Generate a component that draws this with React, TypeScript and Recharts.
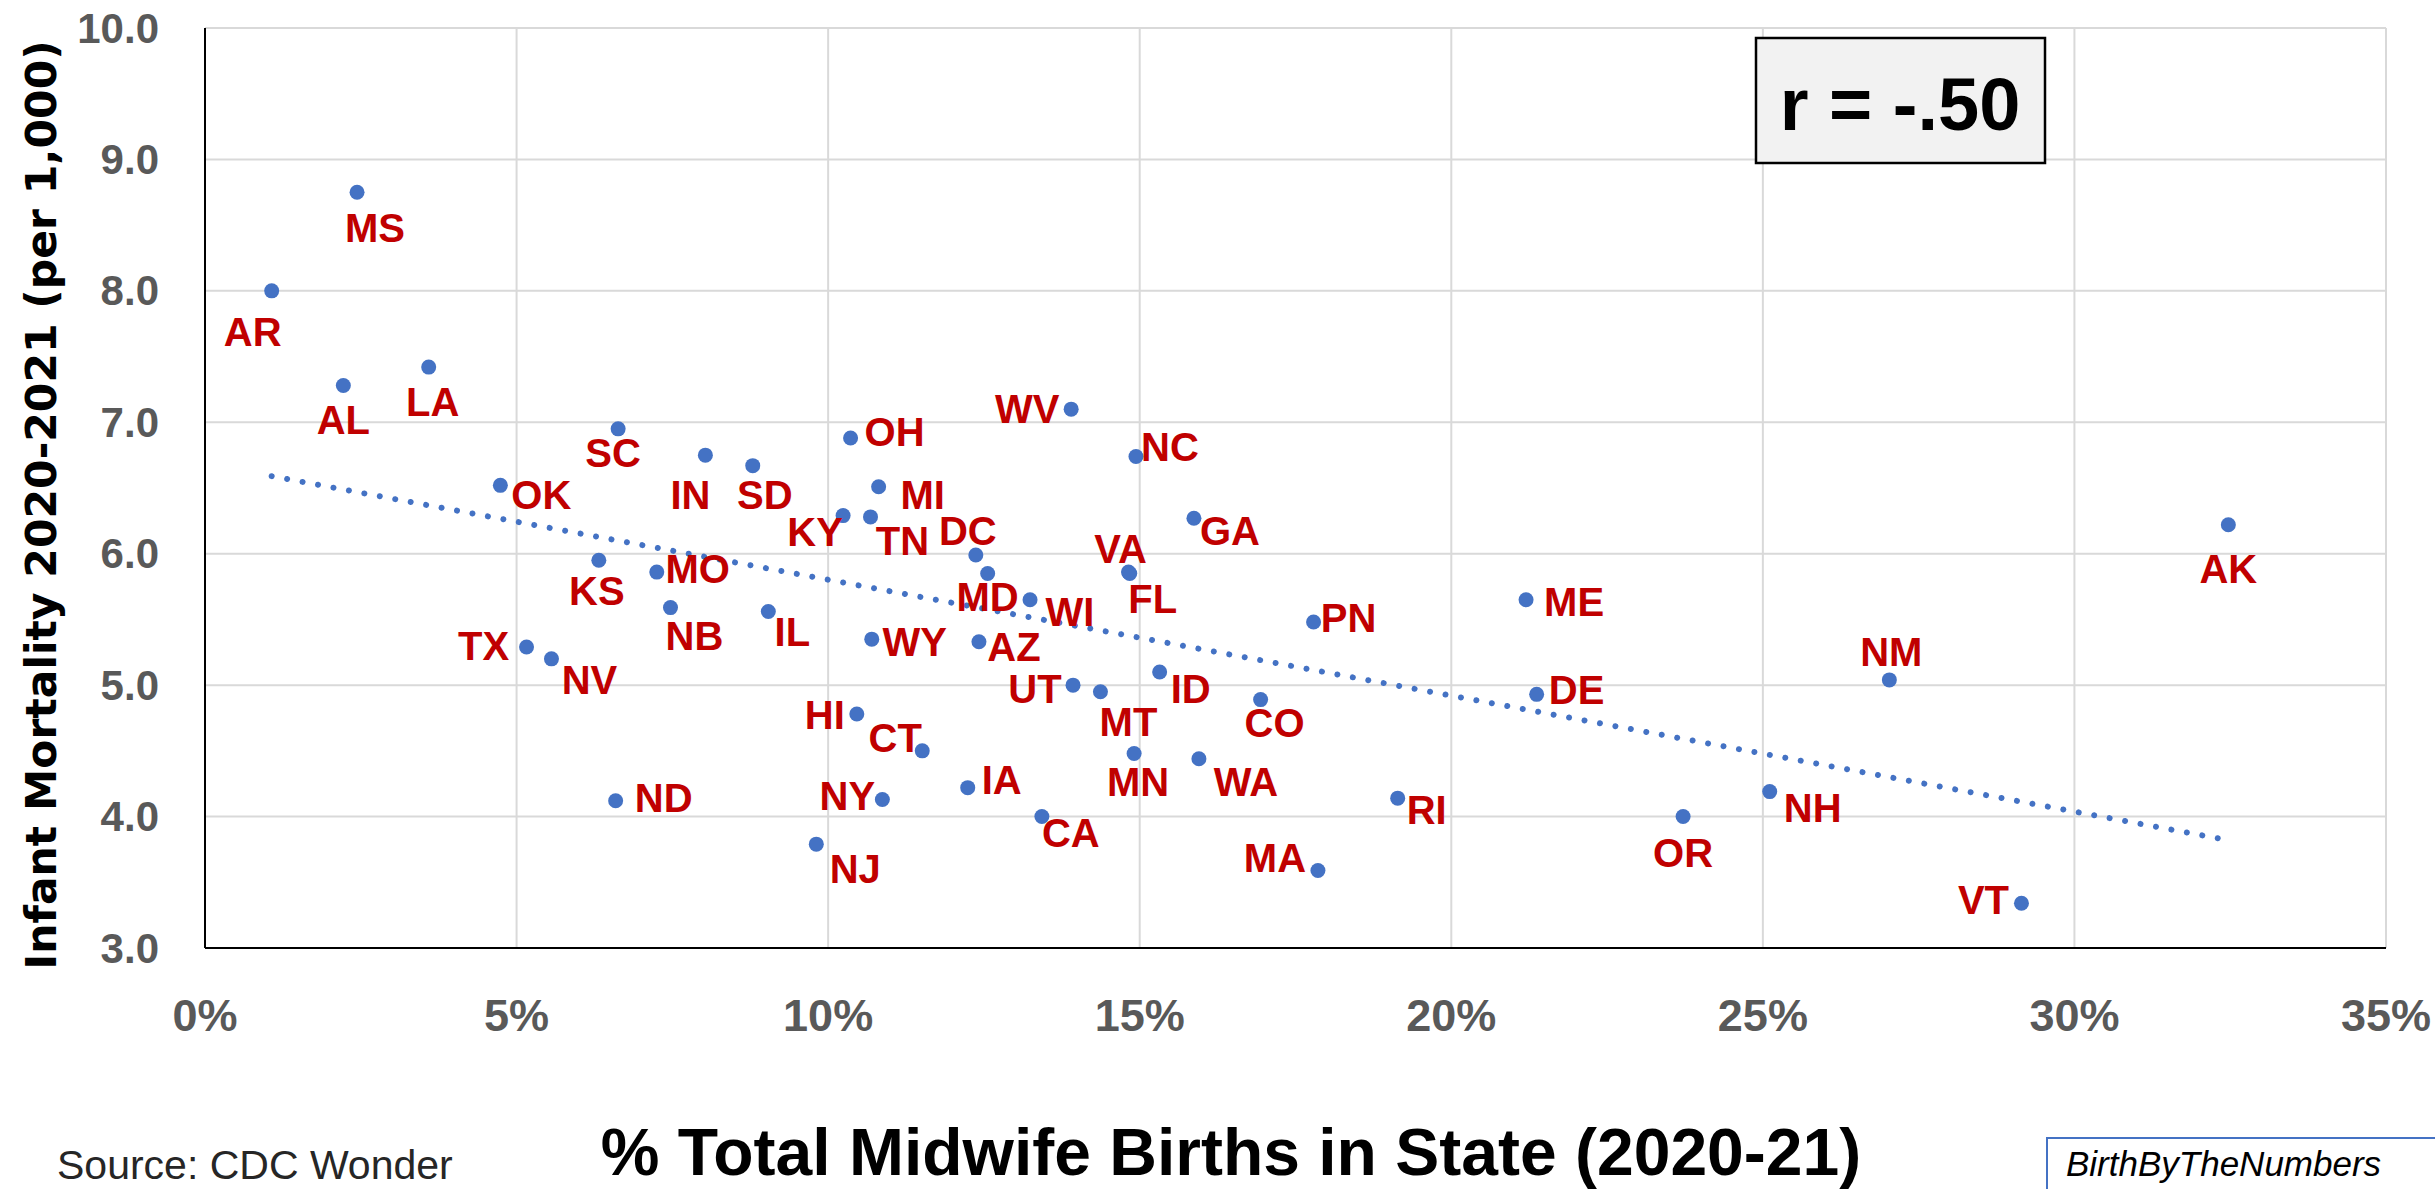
import { ScatterChart, Scatter, XAxis, YAxis, CartesianGrid } from 'recharts';

// Infant mortality vs share of midwife births, by state
const states = [
  'AR', 'MS', 'AL', 'LA', 'OK', 'SC', 'KS', 'MO', 'NB', 'IN', 'SD', 'IL', 'TX',
  'NV', 'ND', 'NJ', 'KY', 'OH', 'TN', 'MI', 'WY', 'HI', 'NY', 'CT', 'IA', 'DC',
  'AZ', 'MD', 'WI', 'CA', 'WV', 'UT', 'MT', 'VA', 'FL', 'MN', 'NC', 'ID', 'GA',
  'WA', 'CO', 'PN', 'MA', 'RI', 'ME', 'DE', 'OR', 'NH', 'NM', 'VT', 'AK',
];
const midwifePct = [
  1.07, 2.44, 2.22, 3.59, 4.74, 6.63, 6.32, 7.25, 7.47, 8.03, 8.79, 9.04, 5.16,
  5.56, 6.59, 9.81, 10.24, 10.36, 10.68, 10.81, 10.7, 10.46, 10.87, 11.51, 12.24, 12.37,
  12.42, 12.56, 13.24, 13.43, 13.9, 13.93, 14.37, 14.82, 14.84, 14.91, 14.94, 15.32, 15.87,
  15.95, 16.94, 17.79, 17.86, 19.14, 21.2, 21.37, 23.72, 25.11, 27.03, 29.15, 32.47,
];
const mortality = [
  8.0, 8.75, 7.28, 7.42, 6.52, 6.95, 5.95, 5.86, 5.59, 6.75, 6.67, 5.56, 5.29,
  5.2, 4.12, 3.79, 6.29, 6.88, 6.28, 6.51, 5.35, 4.78, 4.13, 4.5, 4.22, 5.99,
  5.33, 5.85, 5.65, 4.0, 7.1, 5.0, 4.95, 5.86, 5.85, 4.48, 6.74, 5.1, 6.27,
  4.44, 4.89, 5.48, 3.59, 4.14, 5.65, 4.93, 4.0, 4.19, 5.04, 3.34, 6.22,
];

// Linear trend endpoints
const trendX = [1.07, 32.47];
const trendY = [6.59, 3.82];

const xTicks = [0, 5, 10, 15, 20, 25, 30, 35];
const yTicks = [3, 4, 5, 6, 7, 8, 9, 10];

// label placement relative to the dot (px)
const labelOffsets: Record<string, [number, number]> = {
  AR: [-19, 41], MS: [18, 36], AL: [0, 35], LA: [4, 35], OK: [41, 10], SC: [-5, 24],
  KS: [-2, 31], MO: [41, -3], NB: [24, 28], IN: [-15, 40], SD: [12, 29], IL: [24, 20],
  TX: [-43, -1], NV: [38, 21], ND: [48, -3], NJ: [39, 25], KY: [-28, 16], OH: [44, -6],
  TN: [32, 24], MI: [44, 8], WY: [43, 3], HI: [-32, 1], NY: [-35, -3], CT: [-27, -13],
  IA: [34, -8], DC: [-8, -24], AZ: [35, 5], MD: [0, 24], WI: [40, 12], CA: [29, 16],
  WV: [-44, 0], UT: [-38, 4], MT: [28, 30], VA: [-8, -23], FL: [23, 26], MN: [4, 29],
  NC: [34, -9], ID: [31, 17], GA: [36, 13], WA: [47, 23], CO: [14, 23], PN: [35, -4],
  MA: [-43, -12], RI: [29, 12], ME: [48, 2], DE: [40, -4], OR: [0, 36], NH: [43, 16],
  NM: [2, -28], VT: [-38, -3], AK: [0, 44],
};

const points = states.map((s, i) => ({ state: s, x: midwifePct[i], y: mortality[i] }));
const trend = trendX.map((x, i) => ({ x, y: trendY[i] }));

const FONT = "'Liberation Sans', Arial, sans-serif";
const BLUE = '#4472C4';

const StateDot = (props: any) => {
  const { cx, cy, payload } = props;
  const [dx, dy] = labelOffsets[payload.state] || [0, 30];
  return (
    <g>
      <circle cx={cx} cy={cy} r={7.5} fill={BLUE} />
      <text
        x={cx + dx}
        y={cy + dy}
        textAnchor="middle"
        dominantBaseline="central"
        fontFamily={FONT}
        fontWeight="bold"
        fontSize={40}
        fill="#C00000"
      >
        {payload.state}
      </text>
    </g>
  );
};

const XTick = (props: any) => {
  const { x, payload } = props;
  return (
    <text x={x} y={1031} textAnchor="middle" fontFamily={FONT} fontWeight="bold" fontSize={45} fill="#595959">
      {payload.value}%
    </text>
  );
};

const YTick = (props: any) => {
  const { y, payload } = props;
  return (
    <text x={159} y={y} textAnchor="end" dominantBaseline="central" fontFamily={FONT} fontWeight="bold" fontSize={42} fill="#595959">
      {Number(payload.value).toFixed(1)}
    </text>
  );
};

export default function App() {
  return (
    <div style={{ position: 'absolute', left: 0, top: 0, width: 2435, height: 1189, background: '#fff', overflow: 'hidden' }}>
      <ScatterChart width={2435} height={1189} margin={{ top: 28, right: 49, left: 0, bottom: 0 }}>
        <CartesianGrid stroke="#D9D9D9" strokeWidth={2} />
        <XAxis
          type="number"
          dataKey="x"
          domain={[0, 35]}
          ticks={xTicks}
          height={241}
          tickLine={false}
          axisLine={{ stroke: '#000', strokeWidth: 2 }}
          tick={<XTick />}
          interval={0}
        />
        <YAxis
          type="number"
          dataKey="y"
          domain={[3, 10]}
          ticks={yTicks}
          width={205}
          tickLine={false}
          axisLine={{ stroke: '#000', strokeWidth: 2 }}
          tick={<YTick />}
          interval={0}
        />
        <Scatter
          data={trend}
          line={{ stroke: BLUE, strokeWidth: 6, strokeDasharray: '0.01 15.7', strokeLinecap: 'round' }}
          shape={() => <g />}
          isAnimationActive={false}
        />
        <Scatter data={points} shape={<StateDot />} isAnimationActive={false} />
      </ScatterChart>

      <svg width={2435} height={1189} style={{ position: 'absolute', left: 0, top: 0, pointerEvents: 'none' }}>
        <text
          x={41}
          y={505}
          transform="rotate(-90, 41, 505)"
          textAnchor="middle"
          dominantBaseline="central"
          fontFamily="'DejaVu Sans', Verdana, sans-serif"
          fontWeight="bold"
          fontSize={42.5}
          fill="#000"
        >
          Infant Mortality 2020-2021 (per 1,000)
        </text>
        <text x={1231} y={1175} textAnchor="middle" fontFamily={FONT} fontWeight="bold" fontSize={66} fill="#000">
          % Total Midwife Births in State (2020-21)
        </text>
        <text x={57} y={1179} fontFamily={FONT} fontSize={41} fill="#262626">
          Source: CDC Wonder
        </text>
        <rect x={1756} y={38} width={289} height={125} fill="#F2F2F2" stroke="#000" strokeWidth={2.5} />
        <text x={1900} y={130} textAnchor="middle" fontFamily={FONT} fontWeight="bold" fontSize={74} fill="#000">
          r = -.50
        </text>
        <rect x={2047} y={1138} width={420} height={80} fill="#fff" stroke={BLUE} strokeWidth={2} />
        <text x={2066} y={1176} fontFamily={FONT} fontStyle="italic" fontSize={35} fill="#000">
          BirthByTheNumbers
        </text>
      </svg>
    </div>
  );
}
